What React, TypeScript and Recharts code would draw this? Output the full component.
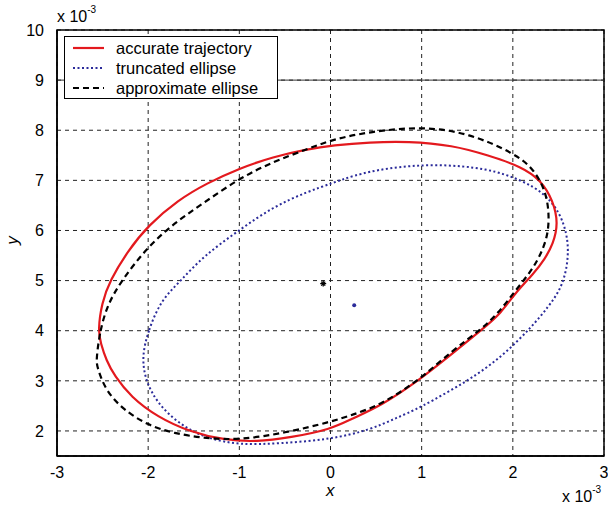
import * as React from 'react';
import {
  ComposedChart,
  Line,
  Scatter,
  XAxis,
  YAxis,
  CartesianGrid,
  ReferenceLine,
  ReferenceArea,
  Legend,
} from 'recharts';

// values are in units of 1e-3 (as the axes show them); each list is a closed loop
const accurateTrajectory = [
  { x: -2.55, y: 4.0 }, { x: -2.51, y: 4.55 }, { x: -2.42, y: 5.0 }, { x: -2.22, y: 5.6 },
  { x: -2.0, y: 6.1 }, { x: -1.67, y: 6.61 }, { x: -1.36, y: 6.94 }, { x: -1.0, y: 7.24 },
  { x: -0.63, y: 7.47 }, { x: -0.26, y: 7.62 }, { x: 0.03, y: 7.7 }, { x: 0.43, y: 7.76 },
  { x: 0.85, y: 7.78 }, { x: 1.34, y: 7.7 }, { x: 1.73, y: 7.5 }, { x: 2.1, y: 7.27 },
  { x: 2.31, y: 7.0 }, { x: 2.44, y: 6.6 }, { x: 2.5, y: 6.14 }, { x: 2.44, y: 5.72 },
  { x: 2.35, y: 5.43 }, { x: 2.23, y: 5.14 }, { x: 2.02, y: 4.74 }, { x: 1.87, y: 4.35 },
  { x: 1.68, y: 4.05 }, { x: 1.34, y: 3.55 }, { x: 0.97, y: 3.01 }, { x: 0.55, y: 2.5 },
  { x: 0.24, y: 2.25 }, { x: 0.0, y: 2.03 }, { x: -0.44, y: 1.87 }, { x: -0.81, y: 1.78 },
  { x: -1.17, y: 1.82 }, { x: -1.54, y: 1.98 }, { x: -1.9, y: 2.28 }, { x: -2.19, y: 2.68 },
  { x: -2.37, y: 3.1 }, { x: -2.46, y: 3.41 }, { x: -2.52, y: 3.75 },
];

const truncatedEllipse = [
  { x: -2.07, y: 3.48 }, { x: -2.0, y: 4.0 }, { x: -1.86, y: 4.61 }, { x: -1.64, y: 5.0 },
  { x: -1.4, y: 5.48 }, { x: -1.0, y: 6.01 }, { x: -0.63, y: 6.47 }, { x: -0.26, y: 6.77 },
  { x: 0.03, y: 6.95 }, { x: 0.24, y: 7.09 }, { x: 0.61, y: 7.25 }, { x: 1.16, y: 7.33 },
  { x: 1.73, y: 7.24 }, { x: 2.1, y: 7.0 }, { x: 2.35, y: 6.74 }, { x: 2.52, y: 6.34 },
  { x: 2.59, y: 5.94 }, { x: 2.61, y: 5.61 }, { x: 2.59, y: 5.21 }, { x: 2.52, y: 4.81 },
  { x: 2.39, y: 4.48 }, { x: 2.21, y: 4.08 }, { x: 1.88, y: 3.48 }, { x: 1.52, y: 3.01 },
  { x: 0.97, y: 2.45 }, { x: 0.71, y: 2.25 }, { x: 0.43, y: 2.02 }, { x: 0.0, y: 1.83 },
  { x: -0.56, y: 1.75 }, { x: -0.99, y: 1.72 }, { x: -1.36, y: 1.85 }, { x: -1.65, y: 2.12 },
  { x: -1.9, y: 2.55 }, { x: -2.03, y: 3.01 },
];

const approximateEllipse = [
  { x: -2.57, y: 3.41 }, { x: -2.53, y: 4.0 }, { x: -2.44, y: 4.55 }, { x: -2.29, y: 5.0 },
  { x: -2.04, y: 5.6 }, { x: -1.75, y: 6.1 }, { x: -1.4, y: 6.54 }, { x: -1.0, y: 7.04 },
  { x: -0.63, y: 7.37 }, { x: -0.26, y: 7.62 }, { x: 0.03, y: 7.82 }, { x: 0.43, y: 7.97 },
  { x: 1.01, y: 8.08 }, { x: 1.52, y: 7.94 }, { x: 2.02, y: 7.54 }, { x: 2.24, y: 7.21 },
  { x: 2.37, y: 6.74 }, { x: 2.4, y: 6.27 }, { x: 2.38, y: 5.88 }, { x: 2.31, y: 5.54 },
  { x: 2.21, y: 5.21 }, { x: 2.02, y: 4.78 }, { x: 1.84, y: 4.35 }, { x: 1.65, y: 4.02 },
  { x: 1.34, y: 3.61 }, { x: 0.97, y: 3.01 }, { x: 0.55, y: 2.52 }, { x: 0.24, y: 2.32 },
  { x: 0.0, y: 2.18 }, { x: -0.5, y: 1.96 }, { x: -0.99, y: 1.82 }, { x: -1.36, y: 1.85 },
  { x: -1.72, y: 1.95 }, { x: -2.01, y: 2.12 }, { x: -2.27, y: 2.42 }, { x: -2.47, y: 2.81 },
  { x: -2.56, y: 3.28 },
];

const starCenter = [{ x: -0.08, y: 4.94 }];
const dotCenter = [{ x: 0.26, y: 4.51 }];

const xTicks = [-3, -2, -1, 0, 1, 2, 3];
const yTicks = [2, 3, 4, 5, 6, 7, 8, 9, 10];

const legendItems = [
  { name: 'accurate trajectory', color: '#e3191e', dash: undefined, width: 2.2 },
  { name: 'truncated ellipse', color: '#2b2b9a', dash: '2 2.5', width: 2 },
  { name: 'approximate ellipse', color: '#000000', dash: '6 4', width: 2.2 },
];

const FONT = '"Liberation Sans", Arial, Helvetica, sans-serif';

function LegendBox() {
  return (
    <div
      style={{
        border: '1px solid #000',
        background: '#fff',
        width: 214,
        height: 63,
        boxSizing: 'border-box',
        padding: '1px 0 0 8px',
        fontFamily: FONT,
        fontSize: 16.5,
        lineHeight: 1,
        color: '#000',
      }}
    >
      {legendItems.map((item) => (
        <div key={item.name} style={{ display: 'flex', alignItems: 'center', height: 20 }}>
          <svg width={32} height={10} style={{ marginRight: 11, flex: 'none' }}>
            <line
              x1={0}
              y1={5}
              x2={31}
              y2={5}
              stroke={item.color}
              strokeWidth={item.width}
              strokeDasharray={item.dash}
            />
          </svg>
          <span style={{ whiteSpace: 'nowrap' }}>{item.name}</span>
        </div>
      ))}
    </div>
  );
}

function StarShape(props: any) {
  const { cx, cy } = props;
  return (
    <g stroke="#000" strokeWidth={1.3}>
      <line x1={cx - 3} y1={cy} x2={cx + 3} y2={cy} />
      <line x1={cx} y1={cy - 3} x2={cx} y2={cy + 3} />
      <line x1={cx - 2} y1={cy - 2} x2={cx + 2} y2={cy + 2} />
      <line x1={cx - 2} y1={cy + 2} x2={cx + 2} y2={cy - 2} />
    </g>
  );
}

function DotShape(props: any) {
  const { cx, cy } = props;
  return <circle cx={cx} cy={cy} r={2} fill="#2b2b9a" />;
}

export default function App() {
  const tickStyle = { fill: '#000', fontSize: 16, fontFamily: FONT };
  const textStyle: React.CSSProperties = {
    position: 'absolute',
    fontFamily: FONT,
    fontSize: 16,
    lineHeight: 1,
    color: '#000',
    whiteSpace: 'nowrap',
  };
  return (
    <div style={{ position: 'absolute', left: 0, top: 0, width: 608, height: 506, background: '#fff' }}>
      <ComposedChart width={608} height={506} margin={{ top: 30, right: 4, left: 12, bottom: 20 }}>
        <CartesianGrid stroke="#222" strokeDasharray="4 4" strokeWidth={1} />
        <ReferenceLine y={9} stroke="#333" strokeWidth={1} />
        <XAxis
          type="number"
          dataKey="x"
          domain={[-3, 3]}
          ticks={xTicks}
          allowDataOverflow
          tickLine={false}
          axisLine={{ stroke: '#000', strokeWidth: 1.5 }}
          tick={tickStyle}
          tickMargin={5}
          height={30}
        />
        <YAxis
          type="number"
          dataKey="y"
          domain={[1.5, 10]}
          ticks={yTicks}
          allowDataOverflow
          tickLine={false}
          axisLine={{ stroke: '#000', strokeWidth: 1.5 }}
          tick={tickStyle}
          tickMargin={7}
          width={45}
        />
        <ReferenceArea x1={-3} x2={3} y1={1.5} y2={10} fill="none" fillOpacity={0} stroke="#000" strokeWidth={1.5} />
        <Line
          data={truncatedEllipse}
          dataKey="y"
          type="basisClosed"
          stroke="#2b2b9a"
          strokeWidth={2}
          strokeDasharray="2 2.5"
          dot={false}
          activeDot={false}
          isAnimationActive={false}
        />
        <Line
          data={accurateTrajectory}
          dataKey="y"
          type="basisClosed"
          stroke="#e3191e"
          strokeWidth={2.2}
          dot={false}
          activeDot={false}
          isAnimationActive={false}
        />
        <Line
          data={approximateEllipse}
          dataKey="y"
          type="basisClosed"
          stroke="#000"
          strokeWidth={2.2}
          strokeDasharray="6 4"
          dot={false}
          activeDot={false}
          isAnimationActive={false}
        />
        <Scatter data={starCenter} dataKey="y" shape={<StarShape />} isAnimationActive={false} />
        <Scatter data={dotCenter} dataKey="y" shape={<DotShape />} isAnimationActive={false} />
        <Legend
          layout="vertical"
          align="center"
          verticalAlign="middle"
          content={() => <LegendBox />}
          wrapperStyle={{ position: 'absolute', left: 64, top: 36, width: 214, height: 63 }}
        />
      </ComposedChart>

      <div style={{ ...textStyle, left: 57, top: 8 }}>
        x 10<sup style={{ fontSize: 10, position: 'relative', top: -3 }}>-3</sup>
      </div>
      <div style={{ ...textStyle, left: 562, top: 488 }}>
        x 10<sup style={{ fontSize: 10, position: 'relative', top: -3 }}>-3</sup>
      </div>
      <div style={{ ...textStyle, left: 326, top: 482, fontSize: 17, fontStyle: 'italic' }}>x</div>
      <div style={{ ...textStyle, left: 8, top: 232, fontSize: 17, fontStyle: 'italic', transform: 'rotate(-90deg)' }}>
        y
      </div>
    </div>
  );
}
